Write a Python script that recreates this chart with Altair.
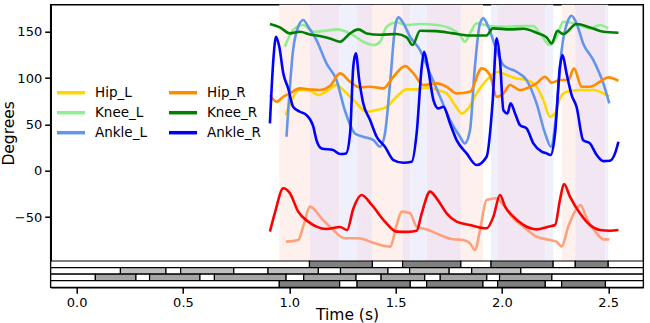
import altair as alt
import pandas as pd

X_DOMAIN = [-0.122, 2.665]
Y_DOMAIN = [-97.5, 179.3]
X_TICKS = [0.0, 0.5, 1.0, 1.5, 2.0, 2.5]
Y_TICKS = [-50, 0, 50, 100, 150]

series_names = ["Hip_L", "Knee_L", "Ankle_L", "Hip_R", "Knee_R", "Ankle_R"]
series_colors = ["#FFD700", "#90EE90", "#6495ED", "#FF8C00", "#008000", "#0000FF"]

hip_l_t = [0.984, 1.011, 1.050, 1.097, 1.136, 1.183, 1.222, 1.270, 1.317, 1.364, 1.411, 1.458, 1.505, 1.552,
           1.599, 1.646, 1.693, 1.740, 1.779, 1.811, 1.842, 1.881, 1.928, 1.983, 2.022, 2.069, 2.116, 2.163,
           2.195, 2.226, 2.250, 2.273, 2.304, 2.367, 2.430, 2.477, 2.505]
hip_l_v = [60.1, 76.3, 87.1, 86.4, 81.7, 87.1, 92.5, 83.5, 72.7, 63.7, 65.5, 69.1, 79.9, 87.8,
           87.8, 90.0, 87.1, 83.5, 70.9, 61.9, 67.3, 83.5, 97.9, 106.9, 103.3, 99.7, 97.9, 90.7,
           76.3, 58.3, 61.9, 78.1, 85.3, 87.1, 87.1, 83.5, 79.9]

knee_l_t = [0.979, 1.018, 1.066, 1.113, 1.175, 1.222, 1.286, 1.348, 1.396, 1.427, 1.458, 1.505, 1.552, 1.615,
            1.693, 1.756, 1.803, 1.826, 1.850, 1.881, 1.944, 2.007, 2.101, 2.148, 2.179, 2.226, 2.257, 2.289,
            2.351, 2.414, 2.461, 2.500]
knee_l_v = [133.9, 151.9, 157.3, 150.1, 151.2, 152.6, 148.3, 139.3, 135.7, 139.3, 155.5, 160.0, 157.3, 158.4,
            157.3, 153.7, 146.5, 139.3, 148.3, 159.1, 156.2, 155.5, 156.2, 156.2, 148.3, 135.7, 144.7, 160.9,
            158.4, 153.7, 157.3, 153.7]

ankle_l_t = [0.987, 1.018, 1.042, 1.066, 1.089, 1.128, 1.175, 1.222, 1.261, 1.309, 1.348, 1.396, 1.427, 1.450,
             1.474, 1.498, 1.513, 1.537, 1.568, 1.615, 1.662, 1.709, 1.756, 1.803, 1.826, 1.850, 1.873, 1.897,
             1.913, 1.936, 1.975, 2.007, 2.069, 2.116, 2.163, 2.203, 2.231, 2.254, 2.281, 2.312, 2.328, 2.351,
             2.382, 2.430, 2.477, 2.505]
ankle_l_v = [36.7, 130.3, 155.5, 162.7, 155.5, 141.1, 115.9, 97.9, 65.5, 40.3, 36.7, 33.1, 25.9, 40.3,
             94.3, 155.5, 165.6, 159.1, 144.7, 130.3, 105.1, 79.9, 54.7, 36.7, 29.5, 43.9, 112.3, 159.1,
             164.5, 155.5, 130.3, 114.1, 106.9, 97.9, 72.7, 40.3, 25.9, 58.3, 130.3, 162.7, 167.4, 159.1,
             137.5, 119.5, 94.3, 72.7]

hip_r_t = [0.909, 0.940, 0.972, 1.003, 1.050, 1.097, 1.144, 1.191, 1.239, 1.286, 1.333, 1.380, 1.442, 1.490,
           1.545, 1.584, 1.630, 1.693, 1.740, 1.787, 1.850, 1.905, 1.944, 1.975, 2.007, 2.038, 2.085, 2.132,
           2.163, 2.203, 2.234, 2.273, 2.312, 2.339, 2.375, 2.414, 2.461, 2.500, 2.548]
hip_r_v = [81.7, 74.5, 79.9, 83.5, 88.9, 87.8, 87.1, 91.4, 105.1, 96.1, 90.0, 90.7, 88.9, 101.5,
           113.0, 105.1, 92.5, 94.3, 90.7, 83.5, 85.3, 110.5, 103.3, 79.9, 83.5, 92.5, 87.1, 90.7,
           94.3, 101.5, 95.0, 97.9, 97.9, 110.5, 90.7, 90.7, 96.1, 100.8, 97.2]

knee_r_t = [0.909, 0.956, 1.003, 1.050, 1.097, 1.144, 1.191, 1.239, 1.286, 1.325, 1.364, 1.427, 1.505, 1.552,
            1.580, 1.615, 1.693, 1.771, 1.850, 1.928, 1.957, 2.038, 2.101, 2.163, 2.210, 2.234, 2.261, 2.289,
            2.351, 2.414, 2.477, 2.548]
knee_r_v = [158.4, 154.8, 148.3, 150.1, 147.2, 145.4, 142.9, 139.3, 148.3, 152.6, 148.3, 146.9, 147.6, 144.0,
            135.7, 151.2, 150.8, 148.3, 146.1, 146.1, 153.7, 152.6, 153.3, 149.0, 144.0, 137.5, 151.2, 147.6,
            158.4, 154.8, 150.1, 149.0]

ankle_r_t = [0.909, 0.925, 0.938, 0.953, 0.972, 0.995, 1.018, 1.050, 1.081, 1.113, 1.128, 1.152, 1.206, 1.239,
             1.267, 1.286, 1.301, 1.313, 1.329, 1.348, 1.380, 1.411, 1.450, 1.490, 1.537, 1.576, 1.599, 1.623,
             1.634, 1.654, 1.678, 1.701, 1.725, 1.756, 1.787, 1.834, 1.881, 1.928, 1.957, 1.975, 1.991, 2.007,
             2.026, 2.041, 2.062, 2.085, 2.116, 2.148, 2.187, 2.210, 2.229, 2.250, 2.273, 2.285, 2.304, 2.328,
             2.351, 2.382, 2.414, 2.446, 2.477, 2.508, 2.532, 2.548]
ankle_r_v = [51.1, 119.5, 144.7, 133.9, 105.1, 88.9, 69.1, 63.7, 60.1, 47.5, 33.1, 24.1, 22.3, 18.0,
             18.7, 40.3, 112.3, 126.7, 97.9, 72.7, 54.7, 36.7, 25.9, 11.5, 8.6, 9.7, 40.3, 112.3,
             128.5, 108.7, 76.3, 67.3, 69.1, 51.1, 33.1, 18.7, 6.1, 15.1, 76.3, 142.9, 119.5, 65.5,
             61.9, 72.7, 61.9, 49.3, 45.7, 29.5, 20.5, 18.7, 16.9, 40.3, 112.3, 124.9, 105.1, 81.7,
             69.1, 33.1, 29.5, 16.9, 10.4, 10.8, 18.7, 31.3]

red_t = [0.909, 0.933, 0.972, 1.003, 1.042, 1.089, 1.128, 1.175, 1.239, 1.272, 1.301, 1.340, 1.388, 1.450,
         1.505, 1.560, 1.599, 1.623, 1.662, 1.693, 1.740, 1.787, 1.850, 1.928, 1.960, 1.991, 2.015, 2.054,
         2.101, 2.163, 2.218, 2.250, 2.273, 2.292, 2.320, 2.367, 2.414, 2.461, 2.508, 2.548]
red_v = [-65.8, -45.0, -19.0, -24.4, -44.2, -55.0, -60.4, -63.0, -60.8, -64.0, -41.0, -26.2, -37.0, -55.0,
         -65.8, -66.0, -64.8, -46.0, -22.6, -29.8, -46.0, -55.0, -58.6, -62.2, -49.6, -26.2, -38.8, -49.6,
         -58.6, -63.3, -60.4, -58.6, -31.6, -14.4, -28.0, -46.0, -58.6, -64.0, -64.8, -64.0]

salmon_t = [0.984, 1.042, 1.066, 1.097, 1.152, 1.199, 1.262, 1.325, 1.403, 1.474, 1.505, 1.529, 1.568, 1.599,
            1.646, 1.709, 1.771, 1.818, 1.850, 1.873, 1.897, 1.928, 1.975, 2.007, 2.054, 2.101, 2.163, 2.226,
            2.257, 2.281, 2.312, 2.343, 2.370, 2.398, 2.446, 2.477, 2.505]
salmon_v = [-76.6, -74.8, -60.0, -38.8, -51.4, -62.2, -73.0, -73.0, -78.4, -82.0, -58.6, -44.2, -46.0, -60.4,
            -63.3, -69.4, -74.1, -74.8, -78.4, -85.6, -64.0, -31.6, -29.8, -37.0, -51.4, -60.4, -71.2, -74.8,
            -76.6, -82.0, -60.4, -44.2, -37.0, -51.4, -67.6, -74.1, -74.1]

# gait phase strips (top to bottom), shaded intervals
strip_row1 = [(1.095, 1.391), (1.533, 1.807), (1.949, 2.241), (2.345, 2.500)]
strip_row2 = [(0.206, 0.420), (0.489, 0.739), (0.900, 1.137), (1.241, 1.464), (1.566, 1.752), (1.858, 2.089)]
strip_row3 = [(0.088, 0.279), (0.343, 0.580), (0.648, 0.985), (1.068, 1.314), (1.432, 1.637),
              (1.710, 1.929), (1.989, 2.235)]
strip_row4 = [(0.953, 1.237), (1.319, 1.569), (1.646, 1.911), (1.980, 2.204), (2.281, 2.487)]
strip_fills = ["#808080", "#c0c0c0", "#a6a6a6", "#808080"]
strip_ids = [1, 2, 3, 4]

band_colors = {"both": "#f1e6f2", "right": "#fef0ed", "left": "#f0f0fd"}

# ---- build tables ----
line_rows = []
for name, t, v in [("Hip_L", hip_l_t, hip_l_v), ("Knee_L", knee_l_t, knee_l_v), ("Ankle_L", ankle_l_t, ankle_l_v),
                   ("Hip_R", hip_r_t, hip_r_v), ("Knee_R", knee_r_t, knee_r_v), ("Ankle_R", ankle_r_t, ankle_r_v)]:
    for a, b in zip(t, v):
        line_rows.append({"series": name, "t": a, "v": b})
lines_df = pd.DataFrame(line_rows)
red_df = pd.DataFrame({"t": red_t, "v": red_v})
salmon_df = pd.DataFrame({"t": salmon_t, "v": salmon_v})

# shading bands from the two stance rows
bounds = sorted(set([p for s in strip_row1 + strip_row4 for p in s]))
band_rows = []
for a, b in zip(bounds[:-1], bounds[1:]):
    m = (a + b) / 2
    inl = any(s <= m < e for s, e in strip_row1)
    inr = any(s <= m < e for s, e in strip_row4)
    kind = "both" if (inl and inr) else ("right" if inr else ("left" if inl else None))
    if kind is None:
        continue
    if band_rows and band_rows[-1]["kind"] == kind and abs(band_rows[-1]["end"] - a) < 1e-9:
        band_rows[-1]["end"] = b
    else:
        band_rows.append({"start": a, "end": b, "kind": kind, "color": band_colors[kind]})
bands_df = pd.DataFrame(band_rows)

strip_rows = []
for rid, segs, fill in zip(strip_ids, [strip_row1, strip_row2, strip_row3, strip_row4], strip_fills):
    prev = X_DOMAIN[0]
    for s, e in segs:
        strip_rows.append({"row": rid, "start": prev, "end": s, "fill": "white"})
        strip_rows.append({"row": rid, "start": s, "end": e, "fill": fill})
        prev = e
    strip_rows.append({"row": rid, "start": prev, "end": X_DOMAIN[1], "fill": "white"})
strip_df = pd.DataFrame(strip_rows)

# ---- layout ----
W = 592.6
H_MAIN = 256.3
H_TOTAL = 282.6
PAD_L, PAD_T = 50.7, 4.7

xscale = alt.Scale(domain=X_DOMAIN, nice=False, zero=False)
xaxis = alt.Axis(values=X_TICKS, format=".1f", title="Time (s)", grid=False, titlePadding=-2)
yscale = alt.Scale(domain=Y_DOMAIN, range=[H_MAIN, 0], nice=False, zero=False)

bands = alt.Chart(bands_df).mark_rect().encode(
    x=alt.X("start:Q", scale=xscale, axis=xaxis),
    x2="end:Q",
    fill=alt.Fill("color:N", scale=None),
)

lines = alt.Chart(lines_df).mark_line(strokeWidth=2.6, interpolate="monotone").encode(
    x=alt.X("t:Q", scale=xscale, axis=xaxis),
    y=alt.Y("v:Q", scale=yscale,
            axis=alt.Axis(values=Y_TICKS, title="Degrees", grid=False, format="d", titlePadding=-2)),
    color=alt.Color("series:N", scale=alt.Scale(domain=series_names, range=series_colors),
                    legend=alt.Legend(title=None, orient="none", legendX=8.3, legendY=76, columns=2,
                                      symbolType="M-1.4,0H1.4", symbolSize=400, symbolStrokeWidth=3.5,
                                      symbolFillColor="transparent",
                                      labelFontSize=13.5, labelOffset=12, columnPadding=15,
                                      rowPadding=1, labelColor="black", padding=0)),
)

salmon = alt.Chart(salmon_df).mark_line(strokeWidth=2.6, interpolate="monotone", color="#FFA07A").encode(
    x=alt.X("t:Q", scale=xscale, axis=xaxis), y=alt.Y("v:Q", scale=yscale))
red = alt.Chart(red_df).mark_line(strokeWidth=2.6, interpolate="monotone", color="#FF0000").encode(
    x=alt.X("t:Q", scale=xscale, axis=xaxis), y=alt.Y("v:Q", scale=yscale))

main = alt.layer(bands, lines, salmon, red)

strip = alt.Chart(strip_df).mark_rect(stroke="black", strokeWidth=1.2).encode(
    x=alt.X("start:Q", scale=xscale, axis=xaxis),
    x2="end:Q",
    y=alt.Y("row:O", axis=None,
            scale=alt.Scale(domain=strip_ids, range=[H_MAIN, H_TOTAL], paddingInner=0, paddingOuter=0)),
    fill=alt.Fill("fill:N", scale=None),
)

chart = alt.layer(main, strip).resolve_scale(y="independent").properties(
    width=W, height=H_TOTAL,
    autosize=alt.AutoSizeParams(type="none"),
    padding={"left": PAD_L, "top": PAD_T, "right": 650 - PAD_L - W, "bottom": 323 - PAD_T - H_TOTAL},
).configure(font="DejaVu Sans").configure_view(
    stroke="black", strokeWidth=1.5
).configure_axis(
    domainColor="black", domainWidth=1.5, tickColor="black", tickWidth=1.5, tickSize=6,
    labelFontSize=13, labelColor="black", labelPadding=3,
    titleFontSize=15.5, titleFontWeight="normal", titleColor="black",
)

chart.save("out.html", embed_options={"renderer": "svg", "actions": False})
